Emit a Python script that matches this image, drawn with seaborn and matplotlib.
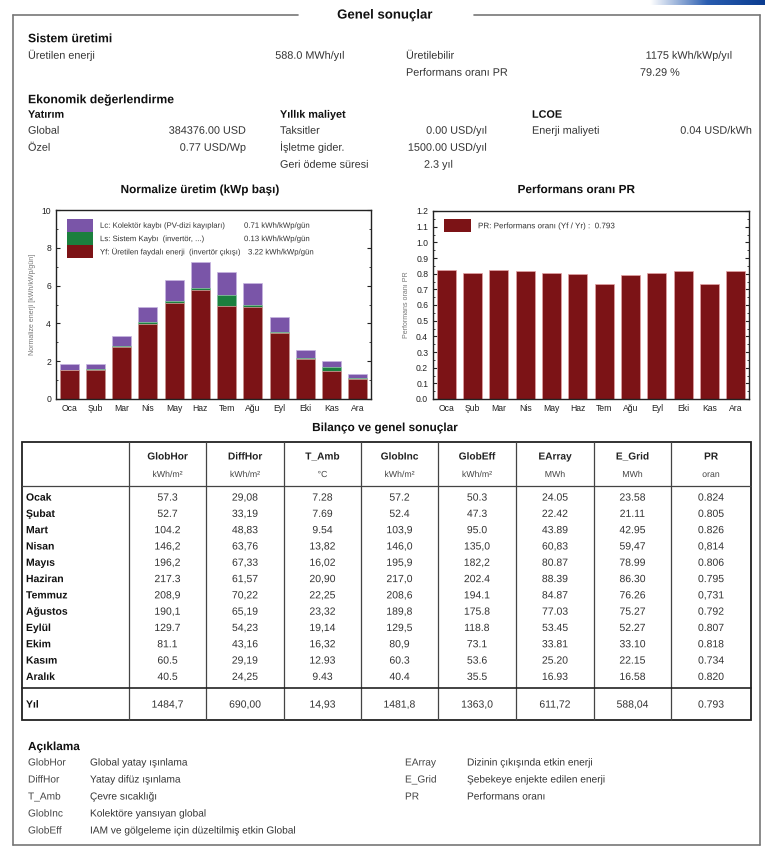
import numpy as np
import pandas as pd
import matplotlib
matplotlib.use("Agg")
import matplotlib.pyplot as plt
import matplotlib.patheffects as pe
import seaborn as sns
from matplotlib.patches import Rectangle
from matplotlib.lines import Line2D

# ---- data ----
months = ['Oca', 'Şub', 'Mar', 'Nis', 'May', 'Haz', 'Tem', 'Ağu', 'Eyl', 'Eki', 'Kas', 'Ara']
yf = [1.52, 1.51, 2.77, 3.96, 5.09, 5.75, 4.92, 4.85, 3.48, 2.13, 1.48, 1.07]
ls = [0.03, 0.09, 0.06, 0.09, 0.12, 0.14, 0.56, 0.11, 0.08, 0.05, 0.20, 0.02]
lc = [0.30, 0.27, 0.52, 0.82, 1.11, 1.35, 1.26, 1.16, 0.76, 0.43, 0.33, 0.21]
pr = [0.824, 0.805, 0.826, 0.814, 0.806, 0.795, 0.731, 0.792, 0.807, 0.818, 0.734, 0.820]

row_names = ['Ocak', 'Şubat', 'Mart', 'Nisan', 'Mayıs', 'Haziran', 'Temmuz', 'Ağustos',
             'Eylül', 'Ekim', 'Kasım', 'Aralık', 'Yıl']
col_names = ['GlobHor', 'DiffHor', 'T_Amb', 'GlobInc', 'GlobEff', 'EArray', 'E_Grid', 'PR']
col_units = ['kWh/m²', 'kWh/m²', '°C', 'kWh/m²', 'kWh/m²', 'MWh', 'MWh', 'oran']
glob_hor = ['57.3', '52.7', '104.2', '146,2', '196,2', '217.3', '208,9', '190,1', '129.7', '81.1', '60.5', '40.5', '1484,7']
diff_hor = ['29,08', '33,19', '48,83', '63,76', '67,33', '61,57', '70,22', '65,19', '54,23', '43,16', '29,19', '24,25', '690,00']
t_amb = ['7.28', '7.69', '9.54', '13,82', '16,02', '20,90', '22,25', '23,32', '19,14', '16,32', '12.93', '9.43', '14,93']
glob_inc = ['57.2', '52.4', '103,9', '146,0', '195,9', '217,0', '208,6', '189,8', '129,5', '80,9', '60.3', '40.4', '1481,8']
glob_eff = ['50.3', '47.3', '95.0', '135,0', '182,2', '202.4', '194.1', '175.8', '118.8', '73.1', '53.6', '35.5', '1363,0']
e_array = ['24.05', '22.42', '43.89', '60,83', '80.87', '88.39', '84.87', '77.03', '53.45', '33.81', '25.20', '16.93', '611,72']
e_grid = ['23.58', '21.11', '42.95', '59,47', '78.99', '86.30', '76.26', '75.27', '52.27', '33.10', '22.15', '16.58', '588,04']
pr_txt = ['0.824', '0.805', '0.826', '0,814', '0.806', '0.795', '0,731', '0.792', '0.807', '0.818', '0.734', '0.820', '0.793']

legend_abbr_left = ['GlobHor', 'DiffHor', 'T_Amb', 'GlobInc', 'GlobEff']
legend_desc_left = ['Global yatay ışınlama', 'Yatay difüz ışınlama', 'Çevre sıcaklığı',
                    'Kolektöre yansıyan global', 'IAM ve gölgeleme için düzeltilmiş etkin Global']
legend_abbr_right = ['EArray', 'E_Grid', 'PR']
legend_desc_right = ['Dizinin çıkışında etkin enerji', 'Şebekeye enjekte edilen enerji', 'Performans oranı']

RED = '#7c1316'
GREEN = '#1b7f3e'
PURPLE = '#7a55a8'
TXT = '#333333'

sns.set_style("ticks")
plt.rcParams['font.family'] = ['Liberation Sans', 'DejaVu Sans']

W, H = 765, 849
fig = plt.figure(figsize=(W / 100, H / 100), dpi=100)


def overlay():
    a = fig.add_axes([0, 0, 1, 1])
    a.set_xlim(0, W)
    a.set_ylim(H, 0)
    a.axis('off')
    return a


# page overlay in pixel coordinates (behind the charts)
page = overlay()

# blue header swoosh
grad = np.linspace(0, 1, 200).reshape(1, -1)
cmap = matplotlib.colors.LinearSegmentedColormap.from_list('b', ['#ffffff', '#2a5db0', '#0b3d91'])
page.imshow(grad, extent=(650, 765, 5, 0), cmap=cmap, aspect='auto', zorder=1)
page.set_xlim(0, W)
page.set_ylim(H, 0)

# outer frame with title gap
fc = '#777777'
page.add_line(Line2D([13, 298], [15, 15], color=fc, lw=1.2))
page.add_line(Line2D([474, 760], [15, 15], color=fc, lw=1.2))
page.add_line(Line2D([13, 13], [15, 845], color=fc, lw=1.2))
page.add_line(Line2D([760, 760], [15, 845], color=fc, lw=1.2))
page.add_line(Line2D([13, 760], [845, 845], color=fc, lw=1.2))

# drawing text as paths keeps baselines exact (no per-string pixel snapping)
as_path = [pe.Normal()]


def txt(x, y, s, ha='left', bold=False, size=7.8, color=TXT, ax=None):
    # y is the visual centre of capitals
    (ax or page).text(x, y + 0.48 * size, s, ha=ha, va='baseline', fontsize=size,
                      fontweight='bold' if bold else 'normal', color=color, zorder=6,
                      path_effects=as_path)


txt(385, 14, 'Genel sonuçlar', ha='center', bold=True, size=9.5, color='#111')

# system production
txt(28, 38, 'Sistem üretimi', bold=True, size=8.8, color='#111')
txt(28, 55, 'Üretilen enerji')
txt(345, 55, '588.0 MWh/yıl', ha='right')
txt(406, 55, 'Üretilebilir')
txt(733, 55, '1175 kWh/kWp/yıl', ha='right')
txt(406, 72, 'Performans oranı PR')
txt(640, 72, '79.29 %')

# economics
txt(28, 99, 'Ekonomik değerlendirme', bold=True, size=8.8, color='#111')
txt(28, 114, 'Yatırım', bold=True, size=7.8, color='#111')
txt(280, 114, 'Yıllık maliyet', bold=True, size=7.8, color='#111')
txt(532, 114, 'LCOE', bold=True, size=7.8, color='#111')
txt(28, 130, 'Global')
txt(246, 130, '384376.00 USD', ha='right')
txt(28, 147, 'Özel')
txt(246, 147, '0.77 USD/Wp', ha='right')
txt(280, 130, 'Taksitler')
txt(487, 130, '0.00 USD/yıl', ha='right')
txt(280, 147, 'İşletme gider.')
txt(487, 147, '1500.00 USD/yıl', ha='right')
txt(280, 164, 'Geri ödeme süresi')
txt(424, 164, '2.3 yıl')
txt(532, 130, 'Enerji maliyeti')
txt(752, 130, '0.04 USD/kWh', ha='right')

# chart titles
txt(200, 189, 'Normalize üretim (kWp başı)', ha='center', bold=True, size=8.5, color='#111')
txt(576, 189, 'Performans oranı PR', ha='center', bold=True, size=8.5, color='#111')


def px_axes(x0, y0, x1, y1):
    return fig.add_axes([x0 / W, 1 - y1 / H, (x1 - x0) / W, (y1 - y0) / H])


def style_axes(ax):
    ax.tick_params(axis='both', which='both', direction='in', labelsize=6.2, colors='#222',
                   left=True, right=True, top=False, bottom=False)
    ax.tick_params(axis='both', which='major', length=3, width=0.8)
    ax.tick_params(axis='y', which='minor', length=1.5, width=0.6)
    for s in ax.spines.values():
        s.set_visible(True)
        s.set_linewidth(1.0)
        s.set_color('#222')
    ax.set_xlabel('')


# ---- left chart: normalized production ----
df = pd.DataFrame({'ay': months, 'yf': yf, 'ls': ls, 'lc': lc})
df['ya'] = df['yf'] + df['ls']
df['yr'] = df['ya'] + df['lc']

ax1 = px_axes(56, 210, 371, 399)
sns.barplot(data=df, x='ay', y='yr', color=PURPLE, width=0.72, ax=ax1, saturation=1,
            edgecolor='#c7b5e0', linewidth=0.5)
sns.barplot(data=df, x='ay', y='ya', color=GREEN, width=0.72, ax=ax1, saturation=1,
            edgecolor='#8fcfa3', linewidth=0.5)
sns.barplot(data=df, x='ay', y='yf', color=RED, width=0.72, ax=ax1, saturation=1,
            edgecolor='#e3a3a5', linewidth=0.5)
ax1.set_ylim(0, 10)
ax1.set_xlim(-0.5, 11.5)
ax1.set_yticks(np.arange(0, 11, 2))
ax1.set_yticks(np.arange(0, 10.1, 1), minor=True)
ax1.set_ylabel('Normalize enerji [kWh/kWp/gün]', fontsize=5, color='#777')
style_axes(ax1)

# ---- right chart: performance ratio ----
dpr = pd.DataFrame({'ay': months, 'pr': pr})
ax2 = px_axes(433, 211, 749, 399)
sns.barplot(data=dpr, x='ay', y='pr', color=RED, width=0.72, ax=ax2, saturation=1,
            edgecolor='#e3a3a5', linewidth=0.5)
ax2.set_ylim(0, 1.2)
ax2.set_xlim(-0.5, 11.5)
ax2.set_yticks(np.arange(0, 1.21, 0.1))
ax2.set_yticklabels([f'{v:.1f}' for v in np.arange(0, 1.21, 0.1)])
ax2.set_yticks(np.arange(0, 1.21, 0.05), minor=True)
ax2.set_ylabel('Performans oranı PR', fontsize=5, color='#777')
style_axes(ax2)

# overlay above the charts for the chart legends
top = overlay()
leg_items = [(PURPLE, 'Lc: Kolektör kaybı (PV-dizi kayıpları)', '0.71 kWh/kWp/gün', 244),
             (GREEN, 'Ls: Sistem Kaybı  (invertör, ...)', '0.13 kWh/kWp/gün', 244),
             (RED, 'Yf: Üretilen faydalı enerji  (invertör çıkışı)', '3.22 kWh/kWp/gün', 248)]
for i, (c, lab, val, vx) in enumerate(leg_items):
    y = 218.5 + i * 13.3
    top.add_patch(Rectangle((67, y), 26, 13.3, facecolor=c, edgecolor='none', zorder=5))
    txt(100, y + 6.6, lab, size=5.6, color='#333', ax=top)
    txt(vx, y + 6.6, val, size=5.6, color='#333', ax=top)

top.add_patch(Rectangle((444, 219), 27, 13, facecolor=RED, edgecolor='none', zorder=5))
txt(478, 225.5, 'PR: Performans oranı (Yf / Yr) :  0.793', size=5.8, color='#333', ax=top)

# ---- table ----
txt(385, 427, 'Bilanço ve genel sonuçlar', ha='center', bold=True, size=8.5, color='#111')

cols = [glob_hor, diff_hor, t_amb, glob_inc, glob_eff, e_array, e_grid, pr_txt]
xl = [22, 129, 206, 284, 361, 438, 516, 594, 671, 751]
t_top, t_head, t_rows_end, t_bot = 442, 486, 688, 720
lc_ = '#444444'
page.add_patch(Rectangle((xl[0], t_top), xl[-1] - xl[0], t_bot - t_top, fill=False, edgecolor='#222', lw=1.3))
for x in xl[1:-1]:
    page.add_line(Line2D([x, x], [t_top, t_bot], color=lc_, lw=0.9))
page.add_line(Line2D([xl[0], xl[-1]], [t_head, t_head], color=lc_, lw=0.9))
page.add_line(Line2D([xl[0], xl[-1]], [t_rows_end, t_rows_end], color='#222', lw=1.2))

for j, (name, unit) in enumerate(zip(col_names, col_units)):
    cx = (xl[j + 1] + xl[j + 2]) / 2
    txt(cx, 456, name, ha='center', bold=True, size=7.3, color='#222')
    txt(cx, 474, unit, ha='center', size=6.3, color='#444')

for i, rn in enumerate(row_names):
    y = 497 + i * 16.3 if i < 12 else 704
    txt(26, y, rn, bold=True, size=7.5, color='#111')
    for j, col in enumerate(cols):
        cx = (xl[j + 1] + xl[j + 2]) / 2
        txt(cx, y, col[i], ha='center', size=7.5, color='#333')

# ---- legend of abbreviations ----
txt(28, 746, 'Açıklama', bold=True, size=8.5, color='#111')
for i, (a, d) in enumerate(zip(legend_abbr_left, legend_desc_left)):
    y = 762 + i * 17
    txt(28, y, a, size=7.3, color='#444')
    txt(90, y, d, size=7.3, color='#333')
for i, (a, d) in enumerate(zip(legend_abbr_right, legend_desc_right)):
    y = 762 + i * 17
    txt(405, y, a, size=7.3, color='#444')
    txt(467, y, d, size=7.3, color='#333')

fig.savefig('out.png', dpi=100)
